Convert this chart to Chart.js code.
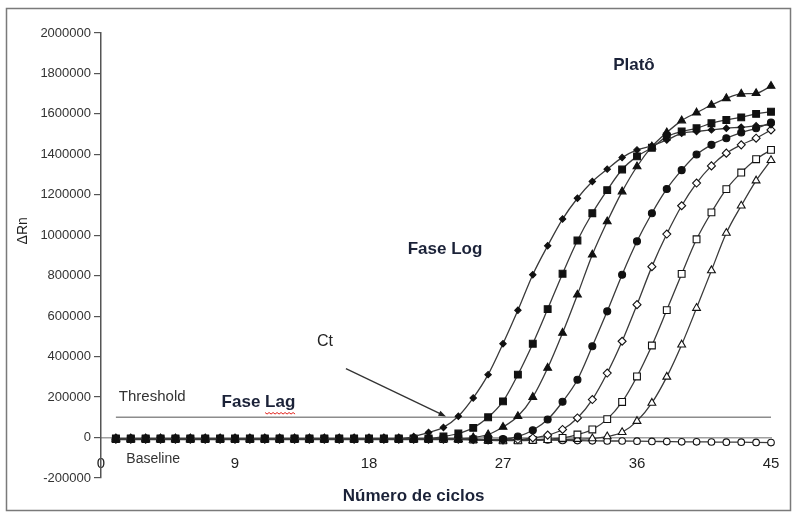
<!DOCTYPE html>
<html>
<head>
<meta charset="utf-8">
<title>Curva de amplificação</title>
<script src="https://cdn.jsdelivr.net/npm/chart.js@4.4.1/dist/chart.umd.min.js"></script>
<style>
  html, body { margin: 0; padding: 0; background: #fff; }
  canvas { display: block; }
</style>
</head>
<body>
<canvas id="myChart" width="797" height="514"></canvas>
<script>
// cycle numbers (x) and axis ticks
const cycles = [1, 2, 3, 4, 5, 6, 7, 8, 9, 10, 11, 12, 13, 14, 15, 16, 17, 18, 19, 20, 21, 22, 23,
    24, 25, 26, 27, 28, 29, 30, 31, 32, 33, 34, 35, 36, 37, 38, 39, 40, 41, 42, 43, 44, 45];
const xTicks = [0, 9, 18, 27, 36, 45];
const yTicks = [-200000, 0, 200000, 400000, 600000, 800000, 1000000, 1200000, 1400000,
    1600000, 1800000, 2000000];
const threshold = 100000;

// delta Rn per cycle, one array per sample
const diamondFilled = [-5000, -5000, -5000, -5000, -5000, -5000, -5000, -5000, -5000, -5000,
    -5000, -5000, -5000, -5000, -5000, -5000, -5000, -5000, -5000, -5000,
    5000, 25000, 50000, 105000, 196000, 311000, 464000, 629000, 805000, 948000,
    1080000, 1183000, 1266000, 1327000, 1384000, 1422000, 1442000, 1471000, 1504000, 1513000,
    1521000, 1529000, 1534000, 1541000, 1546000];
const squareFilled = [-5000, -5000, -5000, -5000, -5000, -5000, -5000, -5000, -5000, -5000,
    -5000, -5000, -5000, -5000, -5000, -5000, -5000, -5000, -5000, -5000,
    -5000, -5000, 5000, 20000, 48000, 100000, 179000, 311000, 464000, 635000,
    810000, 974000, 1109000, 1223000, 1325000, 1390000, 1433000, 1488000, 1513000, 1529000,
    1554000, 1570000, 1583000, 1600000, 1611000];
const triangleFilled = [-5000, -5000, -5000, -5000, -5000, -5000, -5000, -5000, -5000, -5000,
    -5000, -5000, -5000, -5000, -5000, -5000, -5000, -5000, -5000, -5000,
    -5000, -5000, -5000, -8000, 0, 15000, 52000, 105000, 200000, 344000,
    517000, 706000, 904000, 1068000, 1216000, 1340000, 1438000, 1508000, 1567000, 1606000,
    1644000, 1677000, 1699000, 1702000, 1738000];
const circleFilled = [-5000, -5000, -5000, -5000, -5000, -5000, -5000, -5000, -5000, -5000,
    -5000, -5000, -5000, -5000, -5000, -5000, -5000, -5000, -5000, -5000,
    -5000, -5000, -5000, -5000, -8000, -10000, -8000, 5000, 36000, 89000,
    177000, 286000, 451000, 624000, 805000, 970000, 1109000, 1229000, 1322000, 1399000,
    1447000, 1480000, 1508000, 1529000, 1557000];
const diamondOpen = [-8000, -8000, -8000, -8000, -8000, -8000, -8000, -8000, -8000, -8000,
    -8000, -8000, -8000, -8000, -8000, -8000, -8000, -8000, -8000, -8000,
    -8000, -8000, -8000, -8000, -10000, -12000, -12000, -10000, -2000, 12000,
    40000, 97000, 188000, 319000, 476000, 657000, 845000, 1006000, 1146000, 1258000,
    1343000, 1406000, 1447000, 1480000, 1521000];
const squareOpen = [-8000, -8000, -8000, -8000, -8000, -8000, -8000, -8000, -8000, -8000,
    -8000, -8000, -8000, -8000, -8000, -8000, -8000, -8000, -8000, -8000,
    -8000, -8000, -8000, -8000, -10000, -12000, -14000, -14000, -12000, -8000,
    -2000, 15000, 40000, 91000, 176000, 302000, 455000, 630000, 809000, 980000,
    1113000, 1228000, 1310000, 1376000, 1422000];
const triangleOpen = [-10000, -10000, -10000, -10000, -10000, -10000, -10000, -10000, -10000, -10000,
    -10000, -10000, -10000, -10000, -10000, -10000, -10000, -10000, -10000, -10000,
    -10000, -10000, -10000, -10000, -12000, -14000, -15000, -15000, -14000, -12000,
    -10000, -8000, -5000, 5000, 26000, 81000, 171000, 300000, 459000, 640000,
    826000, 1011000, 1146000, 1270000, 1371000];
const circleOpen = [-8000, -8000, -8000, -8000, -8000, -8000, -8000, -8000, -8000, -8000,
    -8000, -8000, -8000, -8000, -8000, -8000, -8000, -8000, -8000, -8000,
    -8000, -8000, -8000, -8000, -8000, -9000, -10000, -10000, -11000, -12000,
    -14000, -15000, -16000, -17000, -17000, -18000, -19000, -20000, -21000, -21000,
    -22000, -23000, -23000, -24000, -25000];

const FONT = '"Liberation Sans", Arial, Helvetica, sans-serif';
const INK = '#1b2238';

// text placed in data units (cycle, delta Rn)
const notes = [
    {text: 'Platô', x: 34.4, y: 1842000, font: 'bold 17px ' + FONT, color: INK},
    {text: 'Fase Log', x: 20.6, y: 931000, font: 'bold 17px ' + FONT, color: INK},
    {text: 'Ct', x: 14.5, y: 476000, font: '16px ' + FONT, color: '#222'},
    {text: 'Threshold', x: 1.2, y: 202000, font: '15px ' + FONT, color: '#333'},
    {text: 'Fase Lag', x: 8.1, y: 173000, font: 'bold 17px ' + FONT, color: INK, squiggle: 'Lag'},
    {text: 'Baseline', x: 1.7, y: -109000, font: '14px ' + FONT, color: '#333'},
    {text: 'Número de ciclos', x: 21, y: -291000, font: 'bold 17px ' + FONT, color: INK, align: 'center'},
    {text: 'ΔRn', x: -5.2, y: 1022000, font: '14px ' + FONT, color: '#222', align: 'center', rotate: true}
];
const ctArrow = {from: [16.45, 341000], to: [23.17, 104000]};

const pts = vals => vals.map((v, i) => ({x: cycles[i], y: v}));

function curve(vals, style, radius, filled) {
    return {
        data: pts(vals),
        borderColor: '#3a3a3a',
        borderWidth: 1.3,
        cubicInterpolationMode: 'monotone',
        pointStyle: style,
        pointRadius: radius,
        pointBorderWidth: 1.1,
        pointBorderColor: '#111',
        pointBackgroundColor: filled ? '#111' : '#fff',
        clip: false,
        order: 0
    };
}

const notesPlugin = {
    id: 'notes',
    afterDraw(chart) {
        const {ctx, scales: {x, y}} = chart;
        ctx.save();

        // picture frame
        ctx.strokeStyle = '#7a7a7a';
        ctx.lineWidth = 1.5;
        ctx.strokeRect(6.5, 8.5, chart.width - 13, chart.height - 12);

        notes.forEach(n => {
            const px = x.getPixelForValue(n.x);
            const py = y.getPixelForValue(n.y);
            ctx.font = n.font;
            ctx.fillStyle = n.color;
            ctx.textAlign = n.align || 'left';
            ctx.textBaseline = 'middle';
            if (n.rotate) {
                ctx.save();
                ctx.translate(px, py);
                ctx.rotate(-Math.PI / 2);
                ctx.fillText(n.text, 0, 0);
                ctx.restore();
            } else {
                ctx.fillText(n.text, px, py);
            }
            if (n.squiggle) {
                // red spell-check underline under the word
                const start = px + ctx.measureText(n.text.slice(0, n.text.indexOf(n.squiggle))).width;
                const w = ctx.measureText(n.squiggle).width;
                ctx.strokeStyle = '#e0201a';
                ctx.lineWidth = 1;
                ctx.beginPath();
                for (let i = 0; i <= w; i += 2) {
                    const yy = py + 10 + ((i / 2) % 2 ? 1.5 : 0);
                    if (i === 0) ctx.moveTo(start + i, yy); else ctx.lineTo(start + i, yy);
                }
                ctx.stroke();
            }
        });

        // Ct arrow
        const x1 = x.getPixelForValue(ctArrow.from[0]), y1 = y.getPixelForValue(ctArrow.from[1]);
        const x2 = x.getPixelForValue(ctArrow.to[0]), y2 = y.getPixelForValue(ctArrow.to[1]);
        const ang = Math.atan2(y2 - y1, x2 - x1);
        ctx.strokeStyle = '#333';
        ctx.fillStyle = '#222';
        ctx.lineWidth = 1.3;
        ctx.beginPath();
        ctx.moveTo(x1, y1);
        ctx.lineTo(x2 - 6 * Math.cos(ang), y2 - 6 * Math.sin(ang));
        ctx.stroke();
        ctx.beginPath();
        ctx.moveTo(x2, y2);
        ctx.lineTo(x2 - 8 * Math.cos(ang - 0.35), y2 - 8 * Math.sin(ang - 0.35));
        ctx.lineTo(x2 - 8 * Math.cos(ang + 0.35), y2 - 8 * Math.sin(ang + 0.35));
        ctx.closePath();
        ctx.fill();

        ctx.restore();
    }
};

let ctx = document.getElementById('myChart');
let myChart = new Chart(ctx, {
    type: 'line',
    data: {
        datasets: [
            curve(diamondFilled, 'rectRot', 3.2, true),
            curve(squareFilled, 'rect', 4.8, true),
            curve(triangleFilled, 'triangle', 4.5, true),
            curve(circleFilled, 'circle', 3.5, true),
            curve(diamondOpen, 'rectRot', 4, false),
            curve(squareOpen, 'rect', 4.8, false),
            curve(triangleOpen, 'triangle', 4.5, false),
            curve(circleOpen, 'circle', 3.3, false),
            {
                data: [{x: cycles[0], y: threshold}, {x: cycles[cycles.length - 1], y: threshold}],
                borderColor: '#8c8c8c',
                borderWidth: 1.5,
                pointRadius: 0,
                order: 10
            }
        ]
    },
    options: {
        responsive: false,
        animation: false,
        devicePixelRatio: 1,
        layout: {padding: {left: 0, right: 26, top: 33, bottom: 36}},
        plugins: {legend: {display: false}, tooltip: {enabled: false}},
        scales: {
            x: {
                type: 'linear',
                min: 0,
                max: 45,
                position: {y: 0},
                afterBuildTicks: s => { s.ticks = xTicks.map(v => ({value: v})); },
                grid: {drawOnChartArea: false, drawTicks: false},
                border: {color: '#a0a0a0', width: 1.5},
                ticks: {
                    padding: 17,
                    color: '#222',
                    maxRotation: 0,
                    autoSkip: false,
                    font: {family: FONT, size: 15}
                }
            },
            y: {
                min: -200000,
                max: 2000000,
                afterFit: s => { s.width = 101; },
                afterBuildTicks: s => { s.ticks = yTicks.map(v => ({value: v})); },
                grid: {drawOnChartArea: false, tickLength: 7, color: '#555', lineWidth: 1.2},
                border: {color: '#555', width: 1.5},
                ticks: {
                    padding: 3,
                    color: '#333',
                    font: {family: FONT, size: 13},
                    callback: v => String(v)
                }
            }
        }
    },
    plugins: [notesPlugin]
});
</script>
</body>
</html>
